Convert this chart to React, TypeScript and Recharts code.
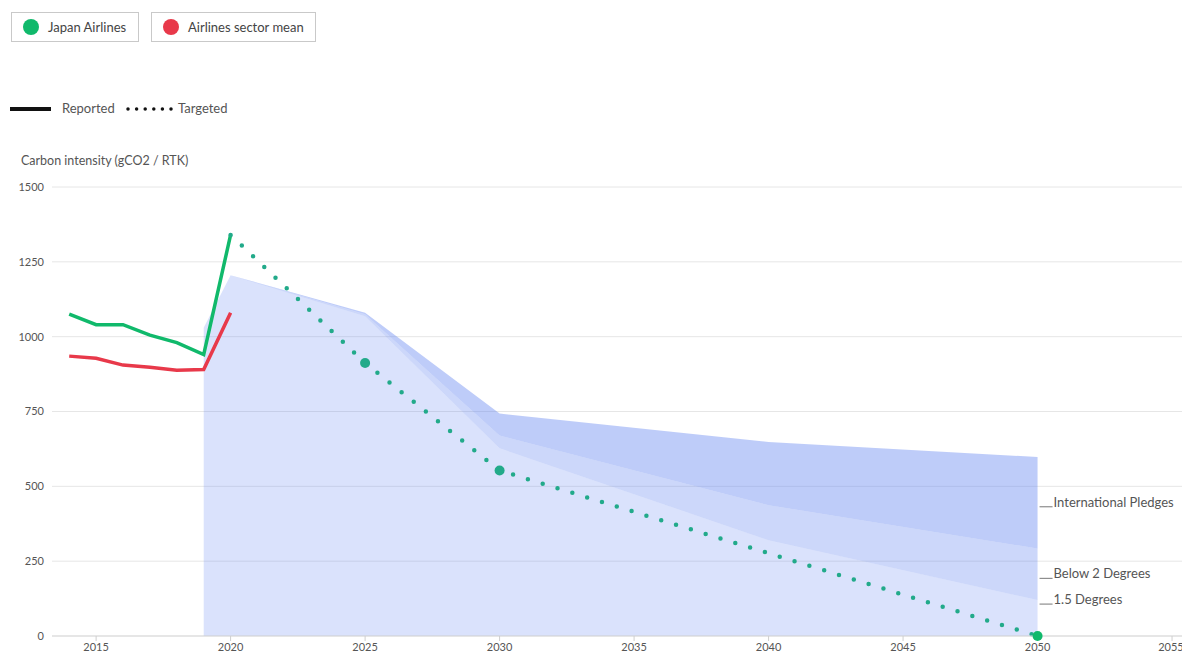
import React from 'react';
import {
  ComposedChart,
  Line,
  Area,
  XAxis,
  YAxis,
  CartesianGrid,
  ReferenceDot,
} from 'recharts';

// reported series
const reportedYears = [2014, 2015, 2016, 2017, 2018, 2019, 2020];
const jalReported = [1075, 1040, 1040, 1005, 980, 940, 1340];
const sectorMean = [935, 928, 905, 898, 888, 890, 1080];

// JAL targets
const targetYears = [2020, 2025, 2030, 2050];
const jalTarget = [1340, 912, 553, 0];

// benchmark pathways
const scenarioYears = [2019, 2020, 2025, 2030, 2040, 2050];
const pledges = [1030, 1205, 1080, 743, 648, 598];
const below2 = [1030, 1205, 1075, 670, 437, 292];
const deg15 = [1030, 1205, 1068, 627, 320, 120];

const xTicks = [2015, 2020, 2025, 2030, 2035, 2040, 2045, 2050, 2055];
const yTicks = [0, 250, 500, 750, 1000, 1250, 1500];

const GREEN = '#10b96b';
const TEAL = '#22aa8a';
const RED = '#e8394a';
const BAND = '#6082f0';
const FONT = 'Lato, "Open Sans", sans-serif';

type Row = {
  year: number;
  jal?: number;
  mean?: number;
  target?: number;
  base?: [number, number];
  mid?: [number, number];
  top?: [number, number];
};

const allYears = Array.from(new Set([...reportedYears, ...targetYears, ...scenarioYears])).sort((a, b) => a - b);

const data: Row[] = allYears.map((year) => {
  const row: Row = { year };
  const r = reportedYears.indexOf(year);
  if (r >= 0) {
    row.jal = jalReported[r];
    row.mean = sectorMean[r];
  }
  const t = targetYears.indexOf(year);
  if (t >= 0) row.target = jalTarget[t];
  const s = scenarioYears.indexOf(year);
  if (s >= 0) {
    row.base = [0, deg15[s]];
    row.mid = [deg15[s], below2[s]];
    row.top = [below2[s], pledges[s]];
  }
  return row;
});

const last = scenarioYears.length - 1;
const pathLabels = [
  { name: 'International Pledges', value: (pledges[last] + below2[last]) / 2 },
  { name: 'Below 2 Degrees', value: (below2[last] + deg15[last]) / 2 },
  { name: '1.5 Degrees', value: deg15[last] },
];

const TargetDot = (props: any) => {
  const { cx, cy, payload } = props;
  if (cx == null || cy == null || payload.target == null || payload.year === targetYears[0]) {
    return <g key={`d-${payload?.year}`} />;
  }
  // the last target sits on the edge of the bands, so it keeps the plain green
  const fill = payload.year === targetYears[targetYears.length - 1] ? GREEN : TEAL;
  return <circle key={`d-${payload.year}`} cx={cx} cy={cy} r={5} fill={fill} />;
};

const PathLabel = (name: string) => (props: any) => {
  const { cx, cy } = props;
  return (
    <g>
      <line x1={cx + 2} x2={cx + 15} y1={cy + 4} y2={cy + 4} stroke="#777" strokeWidth={1} />
      <text x={cx + 16} y={cy + 4} fontSize={13} fill="#555" fontFamily={FONT}>
        {name}
      </text>
    </g>
  );
};

function LegendBox({ left, width, color, label }: { left: number; width: number; color: string; label: string }) {
  return (
    <div
      style={{
        position: 'absolute',
        left,
        top: 12,
        width,
        height: 30,
        boxSizing: 'border-box',
        border: '1px solid #c9c9c9',
        display: 'flex',
        alignItems: 'center',
      }}
    >
      <span
        style={{
          width: 16,
          height: 16,
          borderRadius: 8,
          background: color,
          marginLeft: 11,
          marginRight: 9,
        }}
      />
      <span style={{ fontSize: 13, color: '#444' }}>{label}</span>
    </div>
  );
}

export default function App() {
  return (
    <div
      style={{
        position: 'absolute',
        left: 0,
        top: 0,
        width: 1182,
        height: 655,
        background: '#fff',
        fontFamily: FONT,
        overflow: 'hidden',
      }}
    >
      <LegendBox left={11} width={128} color={GREEN} label="Japan Airlines" />
      <LegendBox left={151} width={165} color={RED} label="Airlines sector mean" />

      <div style={{ position: 'absolute', left: 10, top: 107, width: 41, height: 4, background: '#111' }} />
      <div style={{ position: 'absolute', left: 62, top: 100, fontSize: 13, color: '#555' }}>Reported</div>
      <svg style={{ position: 'absolute', left: 125, top: 105 }} width={50} height={8}>
        <line x1={3} x2={48} y1={4} y2={4} stroke="#111" strokeWidth={3.5} strokeLinecap="round" strokeDasharray="0 8.6" />
      </svg>
      <div style={{ position: 'absolute', left: 178, top: 100, fontSize: 13, color: '#555' }}>Targeted</div>

      <div style={{ position: 'absolute', left: 21, top: 153, fontSize: 12.5, color: '#555' }}>
        Carbon intensity (gCO2 / RTK)
      </div>

      <div style={{ position: 'absolute', left: 0, top: 0 }}>
        <ComposedChart
          width={1182}
          height={655}
          data={data}
          margin={{ top: 187, right: 0, bottom: 3, left: 0 }}
        >
          <CartesianGrid vertical={false} stroke="#e6e6e6" />
          <XAxis
            dataKey="year"
            type="number"
            domain={[2013.36, 2055.37]}
            allowDataOverflow
            ticks={xTicks}
            height={16}
            tickSize={5}
            axisLine={{ stroke: '#d9d9d9' }}
            tickLine={{ stroke: '#cfcfcf' }}
            tick={{ fontSize: 11, fill: '#555', fontFamily: FONT }}
          />
          <YAxis
            type="number"
            domain={[0, 1500]}
            ticks={yTicks}
            width={52}
            axisLine={false}
            tickLine={false}
            tick={{ fontSize: 11, fill: '#555', fontFamily: FONT }}
          />
          <Area dataKey="base" type="linear" stroke="none" fill={BAND} fillOpacity={0.23} isAnimationActive={false} activeDot={false} />
          <Area dataKey="mid" type="linear" stroke="none" fill={BAND} fillOpacity={0.32} isAnimationActive={false} activeDot={false} />
          <Area dataKey="top" type="linear" stroke="none" fill={BAND} fillOpacity={0.41} isAnimationActive={false} activeDot={false} />
          <Line
            dataKey="mean"
            stroke={RED}
            strokeWidth={3.5}
            dot={false}
            activeDot={false}
            type="linear"
            isAnimationActive={false}
          />
          <Line
            dataKey="jal"
            stroke={GREEN}
            strokeWidth={3.5}
            dot={false}
            activeDot={false}
            type="linear"
            isAnimationActive={false}
          />
          <Line
            dataKey="target"
            stroke={TEAL}
            strokeWidth={4.5}
            strokeLinecap="round"
            strokeDasharray="0 15.5"
            connectNulls
            dot={TargetDot}
            activeDot={false}
            type="linear"
            isAnimationActive={false}
          />
          {pathLabels.map((p) => (
            <ReferenceDot
              key={p.name}
              x={scenarioYears[last]}
              y={p.value}
              r={0}
              shape={PathLabel(p.name)}
            />
          ))}
        </ComposedChart>
      </div>
    </div>
  );
}
